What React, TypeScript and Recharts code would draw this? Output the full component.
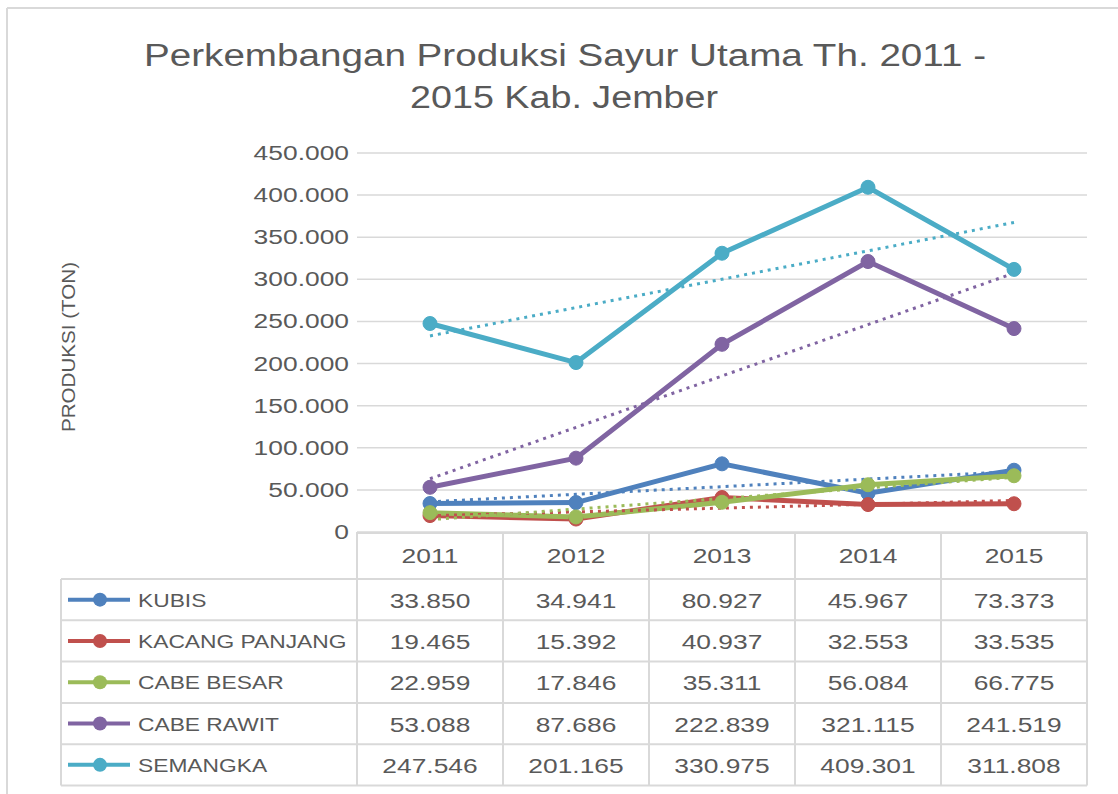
import React from "react";
import { CartesianGrid, Line, LineChart, XAxis, YAxis } from "recharts";

const years = ["2011", "2012", "2013", "2014", "2015"];
const kubis = [33850, 34941, 80927, 45967, 73373];
const kacangPanjang = [19465, 15392, 40937, 32553, 33535];
const cabeBesar = [22959, 17846, 35311, 56084, 66775];
const cabeRawit = [53088, 87686, 222839, 321115, 241519];
const semangka = [247546, 201165, 330975, 409301, 311808];
const yTicks = [0, 50000, 100000, 150000, 200000, 250000, 300000, 350000, 400000, 450000];

const series = [
  { key: "kubis", name: "KUBIS", values: kubis, color: "#4f81bd" },
  { key: "kacang", name: "KACANG PANJANG", values: kacangPanjang, color: "#c0504d" },
  { key: "besar", name: "CABE BESAR", values: cabeBesar, color: "#9bbb59" },
  { key: "rawit", name: "CABE RAWIT", values: cabeRawit, color: "#8064a2" },
  { key: "semangka", name: "SEMANGKA", values: semangka, color: "#4bacc6" },
];

// linear trendline like Excel's, fitted on the category index
function trend(vals: number[]) {
  const n = vals.length;
  const mx = (n - 1) / 2;
  const my = vals.reduce((a, b) => a + b, 0) / n;
  let sxy = 0;
  let sxx = 0;
  vals.forEach((v, i) => {
    sxy += (i - mx) * (v - my);
    sxx += (i - mx) * (i - mx);
  });
  const slope = sxy / sxx;
  return vals.map((_, i) => my + slope * (i - mx));
}

const data = years.map((year, i) => {
  const row: Record<string, any> = { year };
  series.forEach((s) => {
    row[s.key] = s.values[i];
    row[s.key + "Trend"] = trend(s.values)[i];
  });
  return row;
});

const fmt = (v: number) => String(Math.round(v)).replace(/\B(?=(\d{3})+(?!\d))/g, ".");

const TEXT = "#595959";
const GRID = "#d9d9d9";
const FONT = "Liberation Sans, Arial, sans-serif";

const W = 1118;
const H = 794;
const plotLeft = 357;
const plotRight = 1087;
const plotTop = 153;
const plotBottom = 532;
const colW = (plotRight - plotLeft) / years.length;
const tableLeft = 61;
const headerBottom = 579;
const rowH = 41.3;

function Stretch({ x, y, sx, size, anchor, children }: any) {
  return (
    <text
      transform={`translate(${x},${y}) scale(${sx},1)`}
      textAnchor={anchor || "middle"}
      fontSize={size}
      fontFamily={FONT}
      fill={TEXT}
    >
      {children}
    </text>
  );
}

const YTick = (props: any) => (
  <Stretch x={props.x} y={props.y + 7} sx={1.32} size={20} anchor="end">
    {fmt(props.payload.value)}
  </Stretch>
);

const XTick = (props: any) => (
  <Stretch x={props.x} y={plotBottom + 31} sx={1.32} size={20}>
    {props.payload.value}
  </Stretch>
);

export default function App() {
  return (
    <div style={{ position: "absolute", left: 0, top: 0, width: W, height: H, background: "#fff" }}>
      <svg width={W} height={H} style={{ position: "absolute", left: 0, top: 0 }}>
        <line x1={7} y1={8} x2={W} y2={8} stroke={GRID} strokeWidth={2} />
        <line x1={7} y1={8} x2={7} y2={H} stroke={GRID} strokeWidth={2} />
        <text x={565} y={66} textAnchor="middle" fontSize={31} fontFamily={FONT} fill={TEXT}
          textLength={842} lengthAdjust="spacingAndGlyphs">
          Perkembangan Produksi Sayur Utama Th. 2011 -
        </text>
        <text x={564} y={108} textAnchor="middle" fontSize={31} fontFamily={FONT} fill={TEXT}
          textLength={308} lengthAdjust="spacingAndGlyphs">
          2015 Kab. Jember
        </text>
        <text transform="translate(75,347) rotate(-90)" textAnchor="middle" fontSize={18}
          fontFamily={FONT} fill={TEXT} textLength={170} lengthAdjust="spacingAndGlyphs">
          PRODUKSI (TON)
        </text>
        {/* data table */}
        <line x1={plotLeft} y1={plotBottom + 1} x2={plotRight} y2={plotBottom + 1} stroke={GRID} strokeWidth={2} />
        {years.map((_, i) => (
          <line key={"v" + i} x1={plotLeft + colW * i} y1={plotBottom} x2={plotLeft + colW * i}
            y2={headerBottom + rowH * series.length} stroke={GRID} strokeWidth={2} />
        ))}
        <line x1={plotRight} y1={plotBottom} x2={plotRight} y2={headerBottom + rowH * series.length}
          stroke={GRID} strokeWidth={2} />
        <line x1={tableLeft} y1={headerBottom} x2={tableLeft} y2={headerBottom + rowH * series.length}
          stroke={GRID} strokeWidth={2} />
        {series.map((s, r) => {
          const top = headerBottom + rowH * r;
          const cy = top + rowH / 2;
          return (
            <g key={s.key}>
              <line x1={tableLeft} y1={top} x2={plotRight} y2={top} stroke={GRID} strokeWidth={2} />
              <line x1={68} y1={cy} x2={130} y2={cy} stroke={s.color} strokeWidth={4} />
              <circle cx={100} cy={cy} r={7} fill={s.color} />
              <Stretch x={138} y={cy + 7} sx={1.2} size={19} anchor="start">
                {s.name}
              </Stretch>
              {s.values.map((v, i) => (
                <Stretch key={i} x={plotLeft + colW * (i + 0.5)} y={cy + 8} sx={1.32} size={20}>
                  {fmt(v)}
                </Stretch>
              ))}
            </g>
          );
        })}
        <line x1={tableLeft} y1={headerBottom + rowH * series.length} x2={plotRight}
          y2={headerBottom + rowH * series.length} stroke={GRID} strokeWidth={2} />
      </svg>
      <div style={{ position: "absolute", left: 0, top: 0 }}>
        <LineChart
          width={W}
          height={H}
          data={data}
          margin={{ top: plotTop, right: W - plotRight, left: plotLeft - 100, bottom: H - plotBottom - 48 }}
        >
          <CartesianGrid horizontal vertical={false} stroke={GRID} strokeWidth={1.5} />
          <XAxis
            dataKey="year"
            height={48}
            axisLine={false}
            tickLine={false}
            padding={{ left: colW / 2, right: colW / 2 }}
            tick={<XTick />}
            interval={0}
          />
          <YAxis
            width={100}
            domain={[0, 450000]}
            ticks={yTicks}
            axisLine={false}
            tickLine={false}
            tick={<YTick />}
            interval={0}
          />
          {series.map((s) => (
            <Line
              key={s.key}
              dataKey={s.key}
              stroke={s.color}
              strokeWidth={5}
              dot={{ r: 7, fill: s.color, stroke: s.color, strokeWidth: 1 }}
              activeDot={false}
              isAnimationActive={false}
            />
          ))}
          {series.map((s) => (
            <Line
              key={s.key + "Trend"}
              dataKey={s.key + "Trend"}
              stroke={s.color}
              strokeWidth={3}
              strokeDasharray="3 5"
              dot={false}
              activeDot={false}
              isAnimationActive={false}
            />
          ))}
        </LineChart>
      </div>
    </div>
  );
}
